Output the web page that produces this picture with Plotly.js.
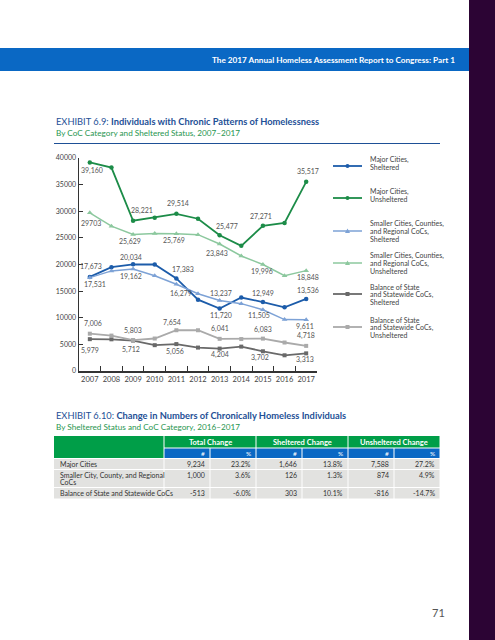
<!DOCTYPE html>
<html>
<head>
<meta charset="utf-8">
<script src="https://cdn.plot.ly/plotly-3.0.1.min.js"></script>
<style>html,body{margin:0;padding:0;background:#fff;}#chart{width:495px;height:640px;}</style>
</head>
<body>
<div id="chart"></div>
<script>
// ---------- DATA ----------
const years = ['2007','2008','2009','2010','2011','2012','2013','2014','2015','2016','2017'];
const mcSheltered    = [17673, 19500, 20034, 20000, 17383, 13400, 11720, 13800, 12949, 11950, 13536];
const mcUnsheltered  = [39160, 38200, 28221, 28800, 29514, 28600, 25477, 23500, 27271, 27800, 35517];
const scSheltered    = [17531, 18800, 19162, 17900, 16279, 14500, 13237, 12650, 11505, 9650, 9611];
const scUnsheltered  = [29703, 27200, 25629, 25800, 25769, 25600, 23843, 21600, 19996, 17900, 18848];
const bsSheltered    = [5979, 5950, 5712, 4850, 5056, 4400, 4204, 4580, 3702, 2950, 3313];
const bsUnsheltered  = [7006, 6650, 5803, 6100, 7654, 7650, 6041, 6000, 6083, 5350, 4718];
const labeledIdx = [0, 2, 4, 6, 8, 10];

const seriesNames = [
  ['Major Cities,', 'Sheltered'],
  ['Major Cities,', 'Unsheltered'],
  ['Smaller Cities, Counties,', 'and Regional CoCs,', 'Sheltered'],
  ['Smaller Cities, Counties,', 'and Regional CoCs,', 'Unsheltered'],
  ['Balance of State', 'and Statewide CoCs,', 'Sheltered'],
  ['Balance of State', 'and Statewide CoCs,', 'Unsheltered']
];

// table data
const tableGroups = ['Total Change', 'Sheltered Change', 'Unsheltered Change'];
const tableSub = ['#', '%', '#', '%', '#', '%'];
const tableRows = [['Major Cities'], ['Smaller City, County, and Regional', 'CoCs'], ['Balance of State and Statewide CoCs']];
const totalNum = [9234, 1000, -513];
const totalPct = [23.2, 3.6, -6.0];
const shelNum  = [1646, 126, 303];
const shelPct  = [13.8, 1.3, 10.1];
const unshNum  = [7588, 874, -816];
const unshPct  = [27.2, 4.9, -14.7];

// ---------- STYLES ----------
const W = 495, H = 640;
const P = x => x / W, Q = y => 1 - y / H;
const FONT = 'Lato, "Open Sans", sans-serif';
const styles = [
  {color: 'rgb(28,92,170)',  width: 1.8, symbol: 'circle',      size: 4.5},
  {color: 'rgb(28,140,72)',  width: 1.8, symbol: 'circle',      size: 4.5},
  {color: 'rgb(125,162,214)',width: 1.5, symbol: 'triangle-up', size: 5},
  {color: 'rgb(140,200,158)',width: 1.5, symbol: 'triangle-up', size: 5},
  {color: 'rgb(105,105,105)',width: 1.8, symbol: 'square',      size: 4},
  {color: 'rgb(170,170,170)',width: 1.8, symbol: 'square',      size: 4}
];
// label offsets [dx, dy(up)] in px for labeled points
const labelOffsets = [
  [[1,10],[-2,7],[7,9],[1,-7],[0,9],[2,8]],
  [[2,-8],[9,10],[2,10],[7,9],[-2,9],[2,10]],
  [[5,-7],[-2,-8],[5,-9],[1,7],[-4,-6],[-1,-7]],
  [[1,-10],[-3,-7],[-2,-7],[-3,-9],[-1,-7],[2,-7]],
  [[0,-11],[-2,-9],[-1,-7],[0,-6],[-3,-6],[-1,-6]],
  [[3,10],[0,10],[-4,8],[0,10],[0,9],[0,10]]
];
const plainLabel = [[3, 0]]; // series 3 (smaller unsheltered), 2007 printed without comma

const allSeries = [mcSheltered, mcUnsheltered, scSheltered, scUnsheltered, bsSheltered, bsUnsheltered];

// ---------- TRACES ----------
const traces = allSeries.map((vals, i) => ({
  type: 'scatter', mode: 'lines+markers', x: years, y: vals,
  line: {color: styles[i].color, width: styles[i].width},
  marker: {color: styles[i].color, symbol: styles[i].symbol, size: styles[i].size},
  name: seriesNames[i].join(' '), showlegend: false, hoverinfo: 'x+y', cliponaxis: false
}));

// ---------- ANNOTATIONS ----------
const ann = [];
const fmt = v => v.toLocaleString('en-US');
allSeries.forEach((vals, si) => {
  labeledIdx.forEach((idx, k) => {
    const plain = plainLabel.some(p => p[0] === si && p[1] === idx);
    ann.push({xref: 'x', yref: 'y', x: idx, y: vals[idx],
      text: plain ? String(vals[idx]) : fmt(vals[idx]), showarrow: false,
      xshift: labelOffsets[si][k][0], yshift: labelOffsets[si][k][1],
      font: {family: FONT, size: 7, color: '#555'}});
  });
});

const shapes = [];
// header banner & side strip
shapes.push({type:'rect', xref:'paper', yref:'paper', x0:0, x1:P(469), y0:Q(71), y1:Q(48), fillcolor:'rgb(10,104,196)', line:{width:0}});
shapes.push({type:'rect', xref:'paper', yref:'paper', x0:P(469), x1:1, y0:0, y1:1, fillcolor:'rgb(44,4,52)', line:{width:0}});
ann.push({xref:'paper', yref:'paper', x:P(457), y:Q(60), xanchor:'right', yanchor:'middle', showarrow:false,
  text:'<b>The 2017 Annual Homeless Assessment Report to Congress: Part 1</b>', font:{family:FONT, size:8.2, color:'#fff'}});

// exhibit 6.9 title
ann.push({xref:'paper', yref:'paper', x:P(54), y:Q(121.5), xanchor:'left', yanchor:'middle', showarrow:false,
  text:'EXHIBIT 6.9: <b>Individuals with Chronic Patterns of Homelessness</b>', font:{family:FONT, size:9.3, color:'rgb(30,80,150)'}});
ann.push({xref:'paper', yref:'paper', x:P(54), y:Q(133), xanchor:'left', yanchor:'middle', showarrow:false,
  text:'By CoC Category and Sheltered Status, 2007–2017', font:{family:FONT, size:8.2, color:'rgb(40,150,80)'}});
shapes.push({type:'line', xref:'paper', yref:'paper', x0:P(54), x1:P(440), y0:Q(143.5), y1:Q(143.5), line:{color:'rgb(30,80,150)', width:1}});

// legend
const legendY = [166, 198, 231, 263, 294, 327];
legendY.forEach((ly, i) => {
  const st = styles[i];
  shapes.push({type:'line', xref:'paper', yref:'paper', x0:P(333), x1:P(362), y0:Q(ly), y1:Q(ly), line:{color:st.color, width:st.width}});
  const cx = 347.5, r = 2;
  if (st.symbol === 'circle') {
    shapes.push({type:'circle', xref:'paper', yref:'paper', x0:P(cx-r), x1:P(cx+r), y0:Q(ly+r), y1:Q(ly-r), fillcolor:st.color, line:{width:0}});
  } else if (st.symbol === 'square') {
    shapes.push({type:'rect', xref:'paper', yref:'paper', x0:P(cx-r), x1:P(cx+r), y0:Q(ly+r), y1:Q(ly-r), fillcolor:st.color, line:{width:0}});
  } else {
    shapes.push({type:'path', xref:'paper', yref:'paper',
      path:`M ${P(cx-2.5)} ${Q(ly+2)} L ${P(cx+2.5)} ${Q(ly+2)} L ${P(cx)} ${Q(ly-2.5)} Z`, fillcolor:st.color, line:{width:0}});
  }
  const lines = seriesNames[i];
  const step = 7.7;
  lines.forEach((t, j) => {
    const yy = ly - 1 - (lines.length - 1) / 2 * step + j * step + (lines.length === 3 ? 1.5 : -1.5);
    ann.push({xref:'paper', yref:'paper', x:P(368), y:Q(yy), xanchor:'left', yanchor:'middle', showarrow:false,
      text:t, font:{family:FONT, size:7, color:'#444'}});
  });
});

// exhibit 6.10 title
ann.push({xref:'paper', yref:'paper', x:P(54), y:Q(415.5), xanchor:'left', yanchor:'middle', showarrow:false,
  text:'EXHIBIT 6.10: <b>Change in Numbers of Chronically Homeless Individuals</b>', font:{family:FONT, size:9.3, color:'rgb(30,80,150)'}});
ann.push({xref:'paper', yref:'paper', x:P(54), y:Q(427), xanchor:'left', yanchor:'middle', showarrow:false,
  text:'By Sheltered Status and CoC Category, 2016–2017', font:{family:FONT, size:8.2, color:'rgb(40,150,80)'}});

// table
const GREEN = 'rgb(0,158,72)', BLUE = 'rgb(10,104,196)', GREY = 'rgb(226,226,224)';
const tL = 54, tLabR = 164, cw = 46;
const colX = [0,1,2,3,4,5,6].map(k => tLabR + k * cw);
const rowTop = [459, 470, 488], rowBot = [469, 487, 498.5];
const rect = (x0, x1, y0, y1, c) => shapes.push({type:'rect', xref:'paper', yref:'paper', x0:P(x0), x1:P(x1), y0:Q(y1), y1:Q(y0), fillcolor:c, line:{width:0}});
rect(tL, tLabR - 0.5, 436, 458, GREEN);
for (let g = 0; g < 3; g++) {
  rect(colX[2*g] + 0.5, colX[2*g+2] - 0.5, 436, 447.5, GREEN);
  ann.push({xref:'paper', yref:'paper', x:P((colX[2*g] + colX[2*g+2]) / 2), y:Q(442), xanchor:'center', yanchor:'middle', showarrow:false,
    text:'<b>' + tableGroups[g] + '</b>', font:{family:FONT, size:7.5, color:'#fff'}});
}
for (let c = 0; c < 6; c++) {
  rect(colX[c] + 0.5, colX[c+1] - 0.5, 448.5, 458, BLUE);
  ann.push({xref:'paper', yref:'paper', x:P(colX[c+1] - 3), y:Q(453.5), xanchor:'right', yanchor:'middle', showarrow:false,
    text:tableSub[c], font:{family:FONT, size:6.5, color:'#fff'}});
}
const cols = [totalNum.map(fmt), totalPct.map(v => v.toFixed(1) + '%'), shelNum.map(fmt), shelPct.map(v => v.toFixed(1) + '%'), unshNum.map(fmt), unshPct.map(v => v.toFixed(1) + '%')];
tableRows.forEach((lab, r) => {
  rect(tL, tLabR - 0.5, rowTop[r], rowBot[r], GREY);
  lab.forEach((t, j) => ann.push({xref:'paper', yref:'paper', x:P(58), y:Q(rowTop[r] + 5 + j * 7), xanchor:'left', yanchor:'middle', showarrow:false,
    text:t, font:{family:FONT, size:7, color:'#333'}}));
  for (let c = 0; c < 6; c++) {
    rect(colX[c] + 0.5, colX[c+1] - 0.5, rowTop[r], rowBot[r], GREY);
    ann.push({xref:'paper', yref:'paper', x:P(colX[c+1] - 3), y:Q(rowTop[r] + 5), xanchor:'right', yanchor:'middle', showarrow:false,
      text:cols[c][r], font:{family:FONT, size:7, color:'#333'}});
  }
});

// page number
ann.push({xref:'paper', yref:'paper', x:P(438), y:Q(612), xanchor:'center', yanchor:'middle', showarrow:false,
  text:'71', font:{family:FONT, size:11, color:'#555'}});

const layout = {
  width: W, height: H, margin: {l:0, r:0, t:0, b:0},
  paper_bgcolor: '#fff', plot_bgcolor: '#fff', showlegend: false,
  xaxis: {type:'category', range:[-0.5, 10.5], domain:[P(79), P(317)], showline:true, linecolor:'#333', linewidth:1.5,
    ticks:'inside', tickson:'boundaries', ticklen:5, tickcolor:'#333', showgrid:false, zeroline:false, tickangle:0,
    tickfont:{family:FONT, size:7.5, color:'#444'}, fixedrange:true},
  yaxis: {range:[0, 40000], domain:[Q(371), Q(158)], dtick:5000, tickformat:'d', showline:true, linecolor:'#333', linewidth:1.5,
    ticks:'inside', ticklen:4, tickcolor:'#333', showgrid:false, zeroline:false,
    tickfont:{family:FONT, size:7, color:'#444'}, fixedrange:true},
  shapes: shapes, annotations: ann
};
Plotly.newPlot('chart', traces, layout, {displayModeBar:false, staticPlot:true});
</script>
</body>
</html>
